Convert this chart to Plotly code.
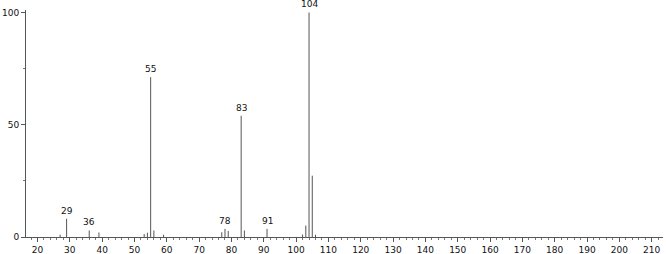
import plotly.graph_objects as go

mz = [27, 29, 36, 39, 53, 54, 55, 56, 59, 77, 78, 79, 83, 84, 91, 102, 103, 104, 105, 106]
intensity = [1.0, 8.1, 2.9, 2.0, 1.3, 1.9, 71.2, 2.9, 1.0, 2.1, 3.6, 2.7, 54.0, 2.9, 3.6, 1.1, 5.1, 100.0, 27.3, 1.0]
labeled = [29, 36, 55, 78, 83, 91, 104]

xs, ys = [], []
for m, v in zip(mz, intensity):
    xs += [m, m, None]
    ys += [0, v, None]

fig = go.Figure()
fig.add_trace(go.Scatter(x=xs, y=ys, mode="lines",
                         line=dict(color="#555555", width=1),
                         hoverinfo="skip", showlegend=False))

for m, v in zip(mz, intensity):
    if m in labeled:
        fig.add_annotation(x=m, y=v, text=str(m), showarrow=False,
                           yanchor="bottom", yshift=1,
                           font=dict(family="DejaVu Sans", size=9, color="#111"))

fig.update_layout(
    width=666, height=254,
    margin=dict(l=26, r=3, t=10, b=16.5, autoexpand=False),
    paper_bgcolor="white", plot_bgcolor="white",
    font=dict(family="DejaVu Sans", size=9, color="#111"),
    xaxis=dict(range=[16.44, 213.5], tickmode="linear", tick0=0, dtick=10,
               ticks="outside", ticklen=4, tickcolor="#555", tickwidth=1,
               showline=True, linecolor="#555", linewidth=1,
               showgrid=False, zeroline=False, automargin=False,
               minor=dict(dtick=2, tick0=0, ticks="outside", ticklen=2, tickcolor="#777", showgrid=False)),
    yaxis=dict(range=[0, 101.1], tickmode="array", tickvals=[0, 50, 100],
               ticks="outside", ticklen=4, tickcolor="#555", tickwidth=1,
               showline=True, linecolor="#555", linewidth=1,
               showgrid=False, zeroline=False, automargin=False,
               minor=dict(tickvals=[25, 75], ticks="outside", ticklen=2, tickcolor="#777", showgrid=False)),
)

fig.write_html("out.html")
